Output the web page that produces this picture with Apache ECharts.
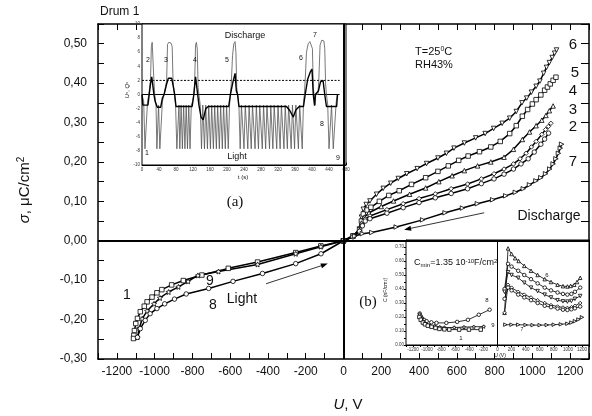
<!DOCTYPE html>
<html>
<head>
<meta charset="utf-8">
<script src="https://cdn.jsdelivr.net/npm/echarts@6/dist/echarts.min.js"></script>
<style>
  html, body { margin: 0; padding: 0; background: #fff; }
  #chart { width: 592px; height: 416px; }
</style>
</head>
<body>
<div id="chart"></div>
<script>
// main plot: sigma (uC/cm2) vs U (V)
var curve6 = [[0,0],[50,0.012],[85,0.03],[95,0.06],[105,0.08],[120,0.092],[140,0.101],[175,0.118],[210,0.133],[250,0.146],[290,0.158],[335,0.17],[390,0.183],[440,0.196],[500,0.21],[545,0.222],[585,0.235],[640,0.248],[700,0.261],[750,0.272],[795,0.285],[840,0.298],[880,0.311],[915,0.328],[945,0.35],[970,0.362],[995,0.377],[1020,0.392],[1040,0.405],[1060,0.425],[1075,0.44],[1090,0.452],[1105,0.465],[1118,0.476],[1128,0.484]];
var curve5 = [[0,0],[50,0.012],[85,0.028],[95,0.05],[105,0.068],[125,0.078],[145,0.085],[190,0.1],[240,0.115],[295,0.127],[360,0.143],[435,0.16],[500,0.176],[555,0.19],[610,0.204],[660,0.215],[720,0.226],[780,0.238],[830,0.252],[880,0.272],[915,0.292],[947,0.316],[975,0.333],[1000,0.347],[1020,0.358],[1045,0.37],[1065,0.382],[1080,0.39],[1095,0.398],[1110,0.407],[1125,0.415]];
var curve4 = [[0,0],[50,0.012],[85,0.027],[95,0.045],[110,0.06],[135,0.071],[200,0.087],[265,0.101],[350,0.118],[435,0.134],[505,0.15],[575,0.165],[640,0.178],[710,0.19],[780,0.2],[850,0.212],[900,0.232],[947,0.257],[985,0.276],[1020,0.292],[1050,0.306],[1072,0.318],[1090,0.33],[1110,0.342]];
var curve3 = [[0,0],[50,0.01],[85,0.025],[100,0.04],[115,0.055],[140,0.063],[230,0.079],[316,0.094],[400,0.107],[486,0.119],[570,0.132],[657,0.144],[730,0.157],[797,0.17],[850,0.182],[900,0.195],[935,0.208],[967,0.222],[995,0.238],[1020,0.252],[1050,0.27],[1070,0.282],[1085,0.29],[1098,0.298]];
var curve2 = [[0,0],[50,0.01],[85,0.024],[100,0.038],[115,0.05],[140,0.056],[230,0.07],[316,0.084],[400,0.097],[486,0.109],[570,0.12],[657,0.132],[730,0.145],[797,0.157],[850,0.169],[900,0.182],[940,0.195],[978,0.208],[1010,0.225],[1045,0.245],[1065,0.258],[1086,0.273]];
var curve7 = [[0,0],[60,0.012],[100,0.018],[150,0.021],[279,0.035],[419,0.053],[538,0.071],[630,0.083],[709,0.094],[790,0.104],[859,0.114],[910,0.123],[952,0.132],[985,0.142],[1019,0.152],[1045,0.16],[1070,0.17],[1092,0.182],[1110,0.195],[1125,0.208],[1138,0.222],[1148,0.235],[1155,0.245]];
var curve1 = [[0,0],[-120,-0.013],[-253,-0.03],[-455,-0.054],[-610,-0.07],[-750,-0.087],[-848,-0.101],[-910,-0.112],[-962,-0.124],[-988,-0.132],[-1014,-0.143],[-1040,-0.155],[-1055,-0.166],[-1076,-0.18],[-1091,-0.197],[-1100,-0.21],[-1107,-0.228],[-1110,-0.24],[-1112,-0.248]];
var curve9 = [[0,0],[-120,-0.015],[-253,-0.033],[-455,-0.06],[-662,-0.078],[-771,-0.088],[-823,-0.103],[-874,-0.117],[-926,-0.13],[-972,-0.145],[-1003,-0.16],[-1040,-0.178],[-1066,-0.198],[-1081,-0.222],[-1091,-0.245]];
var curve8 = [[0,0],[-119,-0.033],[-253,-0.058],[-429,-0.083],[-585,-0.103],[-714,-0.121],[-833,-0.135],[-895,-0.148],[-947,-0.16],[-988,-0.172],[-1024,-0.185],[-1050,-0.202],[-1076,-0.223],[-1091,-0.245]];
// arrows: [fromU, fromSigma, toU, toSigma]
var arrows = [[-410,-0.109,-83,-0.058],[745,0.071,321,0.028]];

// inset (a): U and Q vs t (s)
var uSignal = [[0,0],[4,-1],[7,-7.7],[10,-7.7],[13,-1],[16,0],
  [18,0],[20,2],[22,6.8],[24,7.4],[26,7.3],[28,2],[30,0],
  [33,-1.5],[35,-7.7],[37,-7.7],[39,-1.5],[42,-7.7],[45,-7.7],[48,-1],[52,0],
  [56,0],[58,2],[60,7.1],[63,7.4],[68,7.3],[71,6.8],[73,2],[76,0],
  [79,-1.5],[82,-7.7],[85,-7.7],[87,-1.5],[89,-7.7],[92,-1.5],[95,-7.7],[98,-1.5],[101,-7.7],[104,-1.5],[107,-7.7],[110,-1.5],[113,-7.7],[116,-1.5],[119,-1],[122,0],
  [124,2],[126,7],[128,7.4],[130,6.5],[132,1],[134,0],
  [137,-1.5],[140,-7.7],[143,-1.5],[147,-7.7],[150,-1.5],[154,-7.7],[157,-1.5],[161,-7.7],[164,-1.5],[168,-7.7],[171,-1.5],[175,-7.7],[178,-1.5],[182,-7.7],[185,-1.5],[189,-7.7],[192,-1.5],[196,-7.7],[199,-1.5],[203,-7.7],[206,-1.5],[208,0],
  [210,1.5],[213,5.5],[216,7.2],[219,7.5],[221,6],[223,1],[225,0],
  [228,-1.5],[231,-7.7],[234,-1.5],[240,-7.7],[243,-1.5],[249,-7.7],[252,-1.5],[257,-7.7],[260,-1.5],[266,-7.7],[269,-1.5],[274,-7.7],[277,-1.5],[283,-7.7],[286,-1.5],[291,-7.7],[294,-1.5],[300,-7.7],[303,-1.5],[308,-7.7],[311,-1.5],[317,-7.7],[320,-1.5],[325,-7.7],[328,-1.5],[334,-7.7],[337,-1.5],[342,-7.7],[345,-1.5],[351,-7.7],[354,-1.5],[359,-7.7],[362,-1.5],[368,-7.7],[371,-1.5],[377,-7.7],[380,-1],[382,0],
  [384,2],[387,6],[391,7.2],[395,7.5],[399,7.4],[401,6.5],[403,1],[405,0],[407,-1.5],[409,0],
  [414,0],[416,2],[419,7],[423,7.7],[428,7.6],[430,6.5],[432,1.5],[434,0],
  [437,-1.5],[440,-7.7],[443,-7.7],[446,-1.5],[450,-7.7],[454,-7.7],[457,-1],[460,0]];
var qSignal = [[0,0],[2,-1.5],[14,-1.5],[17,0],[20,1.5],[23,2.5],[26,1],[28,0],[31,-1],[36,-1.8],[44,-1.8],[48,-0.5],[52,0],
  [58,1.5],[62,2.3],[70,2.3],[74,1],[77,0],[80,-1.7],[118,-1.7],[122,0],[126,2.5],[130,0.5],[134,-1.5],[139,-3.2],[144,-3.6],[150,-2],[156,-1.7],[204,-1.7],[208,0],
  [214,1.8],[219,3],[222,0.5],[225,0],[228,-1.7],[340,-1.7],[348,-2.3],[356,-3.2],[362,-2.2],[370,-1.7],[380,-1.7],[384,0],
  [390,2.2],[396,3.2],[400,3.6],[403,0],[406,-1.6],[408,0],[415,0.5],[420,1.8],[426,2],[430,0],[434,-1.7],[458,-1.7],[460,0]];
var levelZero = [[0,0],[465,0]];
var levelTwo = [[0,2],[465,2]];

// inset (b): C (nF/cm2) vs U (V)
var cap6 = [[100,0.23],[150,0.69],[200,0.65],[250,0.62],[300,0.6],[380,0.565],[476,0.53],[570,0.5],[671,0.47],[760,0.45],[853,0.43],[930,0.42],[993,0.418],[1040,0.422],[1091,0.43],[1130,0.45],[1175,0.48]];
var cap5 = [[100,0.4],[150,0.58],[200,0.56],[294,0.53],[380,0.5],[476,0.47],[570,0.44],[671,0.41],[760,0.39],[853,0.375],[930,0.365],[993,0.36],[1050,0.365],[1100,0.38],[1175,0.41]];
var cap4 = [[100,0.38],[150,0.52],[200,0.5],[294,0.48],[380,0.445],[476,0.41],[570,0.385],[671,0.36],[760,0.34],[853,0.32],[930,0.312],[993,0.31],[1050,0.315],[1100,0.33],[1175,0.35]];
var cap3 = [[100,0.23],[150,0.43],[200,0.41],[294,0.38],[380,0.36],[476,0.34],[570,0.32],[671,0.3],[760,0.285],[853,0.275],[930,0.268],[993,0.265],[1050,0.27],[1100,0.28],[1175,0.3]];
var cap2 = [[100,0.33],[150,0.41],[200,0.39],[294,0.36],[380,0.34],[476,0.32],[570,0.3],[671,0.28],[760,0.27],[853,0.26],[930,0.252],[993,0.25],[1050,0.255],[1100,0.262],[1175,0.275]];
var cap7 = [[112,0.145],[200,0.145],[294,0.145],[400,0.143],[500,0.142],[600,0.142],[700,0.143],[800,0.145],[900,0.148],[993,0.152],[1050,0.16],[1100,0.17],[1150,0.182],[1200,0.198]];
var cap8 = [[-1105,0.225],[-1090,0.205],[-1070,0.19],[-1040,0.178],[-1007,0.17],[-940,0.162],[-867,0.158],[-727,0.158],[-573,0.165],[-420,0.18],[-266,0.216],[-112,0.252]];
var cap9 = [[-1105,0.22],[-1080,0.19],[-1050,0.168],[-1010,0.15],[-960,0.14],[-895,0.135],[-820,0.128],[-755,0.125],[-615,0.125],[-476,0.128],[-336,0.13],[-196,0.132]];
var cap1 = [[-1110,0.2],[-1090,0.18],[-1060,0.16],[-1030,0.148],[-990,0.138],[-937,0.13],[-880,0.122],[-825,0.115],[-755,0.112],[-685,0.11],[-545,0.11],[-406,0.11],[-238,0.11]];

var STAR = 'path://M0,-10 L2.9,-4 9.5,-3.1 4.7,1.5 5.9,8.1 0,5 -5.9,8.1 -4.7,1.5 -9.5,-3.1 -2.9,-4 Z';
var FONT = '"Liberation Sans", Arial, sans-serif';
var SERIF = '"Liberation Serif", "DejaVu Serif", serif';

function curve(data, symbol, rotate, xi, yi, size, width) {
  return {
    type: 'line', data: data, xAxisIndex: xi, yAxisIndex: yi,
    symbol: symbol, symbolRotate: rotate, symbolSize: size, showAllSymbol: true,
    lineStyle: {color: '#000', width: width},
    itemStyle: {color: '#fff', borderColor: '#000', borderWidth: 0.8},
    animation: false, silent: true
  };
}

function mainLabel(v) {
  var r = Math.round(v * 100);
  if (r % 10 !== 0 || r > 50) return '';
  return (r / 100).toFixed(2).replace('.', ',');
}

// thin line with a filled head at its "to" end
function renderArrow(params, api) {
  var p0 = api.coord([api.value(0), api.value(1)]);
  var p1 = api.coord([api.value(2), api.value(3)]);
  var a = Math.atan2(p1[1] - p0[1], p1[0] - p0[0]);
  var len = 7, half = 2.5;
  var bx = p1[0] - len * Math.cos(a), by = p1[1] - len * Math.sin(a);
  var nx = -Math.sin(a) * half, ny = Math.cos(a) * half;
  return {
    type: 'group', children: [
      {type: 'line', shape: {x1: p0[0], y1: p0[1], x2: bx, y2: by}, style: {stroke: '#000', lineWidth: 0.8}},
      {type: 'polygon', shape: {points: [[p1[0], p1[1]], [bx + nx, by + ny], [bx - nx, by - ny]]}, style: {fill: '#000'}}
    ]
  };
}

function txt(text, x, y, size, opts) {
  opts = opts || {};
  return {
    type: 'text', x: x, y: y, rotation: opts.rot || 0, silent: true, z: 100,
    style: {
      text: text, x: 0, y: 0, fill: '#111',
      font: (opts.italic ? 'italic ' : '') + size + 'px ' + (opts.family || FONT),
      textAlign: opts.align || 'center', textVerticalAlign: 'middle', verticalAlign: 'middle',
      rich: opts.rich
    }
  };
}

var tinyLabel = {fontSize: 4.5, color: '#333', margin: 2, fontFamily: FONT};
var tick = function (len, inside) { return {show: true, inside: inside, length: len, lineStyle: {color: '#000', width: 1}}; };
var line = function (w) { return {show: true, onZero: false, lineStyle: {color: '#000', width: w}}; };

var chart = echarts.init(document.getElementById('chart'), null, {renderer: 'canvas'});
chart.setOption({
  backgroundColor: '#fff',
  animation: false,
  grid: [
    {left: 98, top: 24, right: -9, bottom: 57, show: false},
    {left: 142, top: 24, width: 204, height: 141, show: true, backgroundColor: '#fff', borderColor: '#000', borderWidth: 1, z: 5},
    {left: 406, top: 240, width: 186, height: 105, show: true, backgroundColor: '#fff', borderColor: '#000', borderWidth: 1, z: 5}
  ],
  xAxis: [
    {gridIndex: 0, type: 'value', min: -1300, max: 1300, interval: 100, axisLine: line(1.5), axisTick: tick(6, true), splitLine: {show: false},
      axisLabel: {fontSize: 12, color: '#111', margin: 7, fontFamily: FONT, formatter: function (v) { return (v % 200 === 0 && Math.abs(v) <= 1200) ? String(v) : ''; }}},
    {gridIndex: 0, type: 'value', position: 'top', min: -1300, max: 1300, interval: 100, axisLine: line(1.5), axisTick: tick(6, true), axisLabel: {show: false}, splitLine: {show: false}},
    {gridIndex: 1, type: 'value', min: 0, max: 480, interval: 40, axisLine: line(1), axisTick: tick(2.5, true), splitLine: {show: false},
      minorTick: {show: true, splitNumber: 2, length: 1.5, lineStyle: {color: '#000'}}, axisLabel: tinyLabel},
    {gridIndex: 2, type: 'value', min: -1300, max: 1300, interval: 100, axisLine: line(1), axisTick: tick(2, false), splitLine: {show: false},
      axisLabel: {fontSize: 4.5, color: '#333', margin: 2, fontFamily: FONT, formatter: function (v) { return (v % 200 === 0 && Math.abs(v) <= 1200) ? String(v) : ''; }}}
  ],
  yAxis: [
    {gridIndex: 0, type: 'value', min: -0.3, max: 0.55, interval: 0.05, axisLine: line(1.5), axisTick: tick(6, true), splitLine: {show: false},
      axisLabel: {fontSize: 12, color: '#111', margin: 11, fontFamily: FONT, formatter: mainLabel}},
    {gridIndex: 0, type: 'value', position: 'right', min: -0.3, max: 0.55, interval: 0.05, axisLine: line(1.5), axisTick: tick(8, true), axisLabel: {show: false}, splitLine: {show: false}},
    {gridIndex: 1, type: 'value', min: -10, max: 10, interval: 2, axisLine: line(1), axisTick: tick(2.5, true), splitLine: {show: false},
      minorTick: {show: true, splitNumber: 2, length: 1.5, lineStyle: {color: '#000'}}, axisLabel: tinyLabel},
    {gridIndex: 2, type: 'value', min: 0, max: 0.75, interval: 0.05, axisLine: line(1), axisTick: tick(2, false), splitLine: {show: false},
      axisLabel: {fontSize: 4.5, color: '#333', margin: 2, fontFamily: FONT, formatter: function (v) { var r = Math.round(v * 100); return r % 10 === 0 ? (r / 100).toFixed(2) : ''; }}},
    {gridIndex: 2, type: 'value', position: 'right', min: 0, max: 0.75, interval: 0.05, axisLine: line(1), axisTick: tick(3, true), axisLabel: {show: false}, splitLine: {show: false}}
  ],
  series: [
    Object.assign(curve(curve6, 'triangle', 180, 0, 0, 4.5, 1.5), {
      markLine: {silent: true, symbol: 'none', label: {show: false}, lineStyle: {color: '#000', width: 2, type: 'solid'},
        data: [{xAxis: 0}, {yAxis: 0}]}
    }),
    curve(curve5, 'rect', 0, 0, 0, 4.5, 1.5),
    curve(curve4, 'triangle', 0, 0, 0, 4.5, 1.5),
    curve(curve3, 'diamond', 0, 0, 0, 4.5, 1.5),
    curve(curve2, 'circle', 0, 0, 0, 4.5, 1.5),
    curve(curve7, 'triangle', -90, 0, 0, 4.5, 1.5),
    curve(curve1, 'rect', 0, 0, 0, 4.5, 1.5),
    curve(curve9, STAR, 0, 0, 0, 5, 1.5),
    curve(curve8, 'circle', 0, 0, 0, 4.5, 1.5),
    {type: 'custom', data: arrows, xAxisIndex: 0, yAxisIndex: 0, silent: true, z: 4, renderItem: renderArrow,
      encode: {x: [0, 2], y: [1, 3]}},
    // inset (a)
    {type: 'line', data: levelTwo, xAxisIndex: 2, yAxisIndex: 2, symbol: 'none', silent: true, z: 6, lineStyle: {color: '#000', width: 1, type: [2, 1.5]}},
    {type: 'line', data: levelZero, xAxisIndex: 2, yAxisIndex: 2, symbol: 'none', silent: true, z: 6, lineStyle: {color: '#000', width: 1}},
    {type: 'line', data: uSignal, xAxisIndex: 2, yAxisIndex: 2, symbol: 'none', silent: true, z: 6, lineStyle: {color: '#555', width: 0.8}},
    {type: 'line', data: qSignal, xAxisIndex: 2, yAxisIndex: 2, symbol: 'none', silent: true, z: 7, lineStyle: {color: '#000', width: 1.4}},
    // inset (b)
    Object.assign(curve(cap6, 'triangle', 0, 3, 3, 3.5, 0.8), {z: 6,
      markLine: {silent: true, symbol: 'none', label: {show: false}, lineStyle: {color: '#000', width: 1, type: 'solid'}, data: [{xAxis: 0}]}}),
    Object.assign(curve(cap5, 'circle', 0, 3, 3, 3.5, 0.8), {z: 6}),
    Object.assign(curve(cap4, 'triangle', 180, 3, 3, 3.5, 0.8), {z: 6}),
    Object.assign(curve(cap3, 'diamond', 0, 3, 3, 3.5, 0.8), {z: 6}),
    Object.assign(curve(cap2, 'circle', 0, 3, 3, 3.5, 0.8), {z: 6}),
    Object.assign(curve(cap7, 'triangle', -90, 3, 3, 3.5, 0.8), {z: 6}),
    Object.assign(curve(cap8, 'circle', 0, 3, 3, 3.5, 0.8), {z: 6}),
    Object.assign(curve(cap9, STAR, 0, 3, 3, 3.5, 0.8), {z: 6}),
    Object.assign(curve(cap1, 'rect', 0, 3, 3, 3.5, 0.8), {z: 6})
  ],
  graphic: [
    txt('Drum 1', 100, 12, 12, {align: 'left'}),
    txt('{i|σ}, μC/cm{s|2}', 25, 190, 15, {rot: Math.PI / 2, rich: {i: {font: 'italic 15px ' + FONT}, s: {fontSize: 10, verticalAlign: 'top', padding: [0, 0, 8, 0]}}}),
    txt('{i|U}, V', 348, 405, 15, {rich: {i: {font: 'italic 15px ' + FONT}}}),
    txt('T=25{s|0}C', 415, 52, 11, {align: 'left', rich: {s: {fontSize: 7, verticalAlign: 'top', padding: [0, 0, 5, 0]}}}),
    txt('RH43%', 415, 65, 11, {align: 'left'}),
    txt('6', 573, 45, 15), txt('5', 575, 73, 15), txt('4', 573, 91, 15),
    txt('3', 573, 110, 15), txt('2', 573, 127, 15), txt('7', 573, 162, 15),
    txt('Discharge', 549, 216, 14),
    txt('Light', 242, 299, 14),
    txt('1', 127, 295, 14), txt('9', 210, 281, 14), txt('8', 213, 305, 14),
    txt('(a)', 235, 202, 15, {family: SERIF}),
    txt('(b)', 368, 302, 15, {family: SERIF}),
    txt('C{b|min}=1.35 10{s|-10}F/cm{s|2}', 414, 263, 9, {align: 'left', rich: {b: {fontSize: 6, verticalAlign: 'bottom', padding: [4, 0, 0, 0]}, s: {fontSize: 6, verticalAlign: 'top', padding: [0, 0, 4, 0]}}}),
    // inset (a) texts
    txt('Discharge', 245, 36, 9), txt('Light', 237, 157, 9),
    txt('1', 147, 153, 7), txt('2', 148, 60, 7), txt('3', 166, 60, 7), txt('4', 195, 60, 7),
    txt('5', 227, 60, 7), txt('6', 301, 58, 7), txt('7', 315, 35, 7), txt('8', 322, 124, 7), txt('9', 338, 158, 7),
    txt('{i|U}{b|s}, {i|Q}{b|s}', 127, 90, 6, {rot: Math.PI / 2, rich: {i: {font: 'italic 6px ' + FONT}, b: {fontSize: 4}}}),
    txt('t (s)', 243, 177, 6),
    // inset (b) texts
    txt('C (nF/cm{s|2})', 386, 290, 5, {rot: Math.PI / 2, rich: {s: {fontSize: 3.5}}}),
    txt('U (V)', 500, 356, 5),
    txt('8', 487, 300, 6), txt('9', 493, 325, 6), txt('1', 461, 338, 6), txt('6', 547, 275, 6), txt('7', 522, 330, 5)
  ]
});
</script>
</body>
</html>
